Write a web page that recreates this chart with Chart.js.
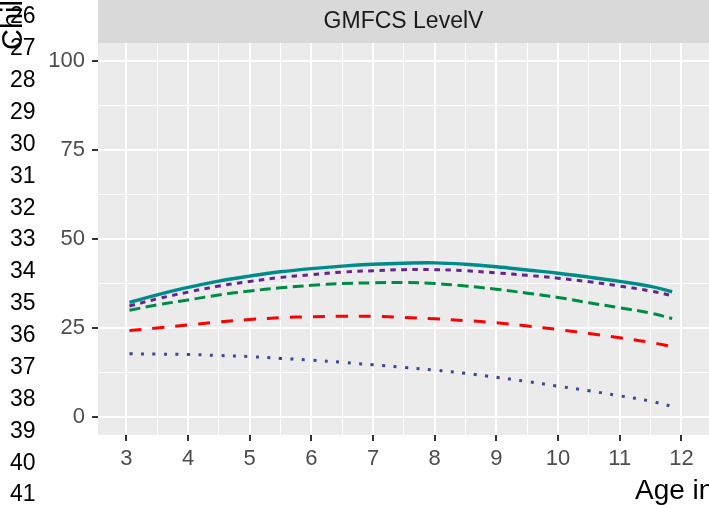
<!DOCTYPE html>
<html>
<head>
<meta charset="utf-8">
<script src="https://cdn.jsdelivr.net/npm/chart.js@4.4.1/dist/chart.umd.min.js"></script>
<style>
  body { margin: 0; background: #fff; }
  #wrap { width: 709px; height: 505px; }
</style>
</head>
<body>
<div id="wrap"><canvas id="myChart"></canvas></div>
<script>
// age in years along every curve
const ages = [3.05, 3.5, 4, 4.5, 5, 5.5, 6, 6.5, 7, 7.5, 8, 8.5, 9, 9.5, 10, 10.5, 11, 11.5, 11.85];

// curves (top to bottom)
const tealLine   = [32.2, 34.3, 36.4, 38.2, 39.6, 40.8, 41.7, 42.4, 42.9, 43.2, 43.3, 42.9, 42.2, 41.3, 40.4, 39.3, 38.1, 36.7, 35.2];
const purpleLine = [31.2, 33.2, 35.1, 36.8, 38.1, 39.2, 40.0, 40.7, 41.1, 41.4, 41.4, 41.1, 40.5, 39.8, 39.0, 38.0, 36.8, 35.4, 34.1];
const greenLine  = [30.0, 31.5, 32.9, 34.3, 35.4, 36.3, 37.0, 37.5, 37.7, 37.8, 37.5, 36.8, 35.9, 34.8, 33.6, 32.1, 30.7, 29.2, 27.7];
const redLine    = [24.3, 25.0, 25.9, 26.7, 27.4, 27.9, 28.2, 28.3, 28.3, 28.0, 27.6, 27.1, 26.5, 25.6, 24.6, 23.5, 22.3, 21.0, 19.8];
const blueLine   = [17.8, 17.7, 17.6, 17.3, 17.0, 16.5, 16.0, 15.4, 14.7, 14.0, 13.2, 12.3, 11.2, 10.0, 8.7, 7.4, 6.0, 4.5, 3.0];

// breaks
const xMajor = [3, 4, 5, 6, 7, 8, 9, 10, 11, 12];
const xMinor = [3.5, 4.5, 5.5, 6.5, 7.5, 8.5, 9.5, 10.5, 11.5];
const yMajor = [0, 25, 50, 75, 100];
const yMinor = [12.5, 37.5, 62.5, 87.5];

// texts
const stripLabel = 'GMFCS LevelV';
const xTitle = 'Age in years';
const yTitle = "Children's score";
const sideLabels = ['26', '27', '28', '29', '30', '31', '32', '33', '34', '35', '36', '37', '38', '39', '40', '41'];

const font = "'Liberation Sans', Arial, sans-serif";

function pts(vals) {
    return ages.map(function (a, i) { return { x: a, y: vals[i] }; });
}

function line(vals, color, dash, width) {
    return {
        data: pts(vals),
        borderColor: color,
        borderWidth: width,
        borderDash: dash,
        borderCapStyle: 'butt',
        pointRadius: 0,
        fill: false,
        tension: 0.4
    };
}

function isIn(list, v) {
    return list.some(function (m) { return Math.abs(m - v) < 1e-6; });
}

const backdrop = {
    id: 'backdrop',
    beforeDraw(chart) {
        const c = chart.ctx, a = chart.chartArea;
        c.save();
        c.fillStyle = '#ffffff';
        c.fillRect(0, 0, chart.width, chart.height);
        c.fillStyle = '#EBEBEB';
        c.fillRect(a.left, a.top, a.right - a.left, a.bottom - a.top);
        c.fillStyle = '#D9D9D9';
        c.fillRect(a.left, 0, a.right - a.left, a.top);
        c.restore();
    },
    afterDraw(chart) {
        const c = chart.ctx, a = chart.chartArea;
        c.save();
        c.fillStyle = '#1A1A1A';
        c.font = '23px ' + font;
        c.textAlign = 'center';
        c.textBaseline = 'middle';
        c.fillText(stripLabel, (a.left + a.right) / 2, a.top / 2);

        c.fillStyle = '#000000';
        c.font = '28px ' + font;
        c.textAlign = 'left';
        c.textBaseline = 'alphabetic';
        c.fillText(xTitle, 635, 499);

        c.font = '23px ' + font;
        c.textBaseline = 'middle';
        sideLabels.forEach(function (s, i) {
            c.fillText(s, 10, 17 + i * 31.87);
        });

        c.translate(22, 50);
        c.rotate(-Math.PI / 2);
        c.font = '29px ' + font;
        c.textBaseline = 'alphabetic';
        c.fillText(yTitle, 0, 0);
        c.restore();
    }
};

const ctx = document.getElementById('myChart').getContext('2d');
new Chart(ctx, {
    type: 'line',
    data: {
        datasets: [
            line(blueLine, '#3A4890', [3, 8.5], 3),
            line(redLine, '#FF0000', [12, 11], 3),
            line(greenLine, '#008B45', [11, 5.5], 3),
            line(tealLine, '#008B8B', [], 3.4),
            line(purpleLine, '#68228B', [5.5, 5.5], 3)
        ]
    },
    options: {
        responsive: true,
        maintainAspectRatio: false,
        animation: false,
        layout: { padding: { top: 43, left: 0, right: 0, bottom: 0 } },
        plugins: { legend: { display: false }, tooltip: { enabled: false } },
        scales: {
            x: {
                type: 'linear',
                min: 2.54,
                max: 12.447,
                afterBuildTicks: function (s) {
                    s.ticks = xMajor.concat(xMinor).sort(function (p, q) { return p - q; })
                        .map(function (v) { return { value: v }; });
                },
                afterFit: function (s) { s.height = 70; },
                border: { display: false },
                grid: {
                    color: '#FFFFFF',
                    lineWidth: function (c) { return isIn(xMajor, c.tick.value) ? 2 : 1; },
                    tickColor: function (c) { return isIn(xMajor, c.tick.value) ? '#333333' : 'rgba(0,0,0,0)'; },
                    tickWidth: 2,
                    tickLength: 6
                },
                ticks: {
                    autoSkip: false,
                    maxRotation: 0,
                    padding: 5,
                    color: '#4D4D4D',
                    font: { family: font, size: 22 },
                    callback: function (v) { return isIn(xMajor, v) ? String(v) : ''; }
                }
            },
            y: {
                min: -5,
                max: 105,
                afterBuildTicks: function (s) {
                    s.ticks = yMajor.concat(yMinor).sort(function (p, q) { return p - q; })
                        .map(function (v) { return { value: v }; });
                },
                afterFit: function (s) { s.width = 98; },
                border: { display: false },
                grid: {
                    color: '#FFFFFF',
                    lineWidth: function (c) { return isIn(yMajor, c.tick.value) ? 2 : 1; },
                    tickColor: function (c) { return isIn(yMajor, c.tick.value) ? '#333333' : 'rgba(0,0,0,0)'; },
                    tickWidth: 2,
                    tickLength: 6
                },
                ticks: {
                    autoSkip: false,
                    padding: 7,
                    color: '#4D4D4D',
                    font: { family: font, size: 22 },
                    callback: function (v) { return isIn(yMajor, v) ? String(v) : ''; }
                }
            }
        }
    },
    plugins: [backdrop]
});
</script>
</body>
</html>
